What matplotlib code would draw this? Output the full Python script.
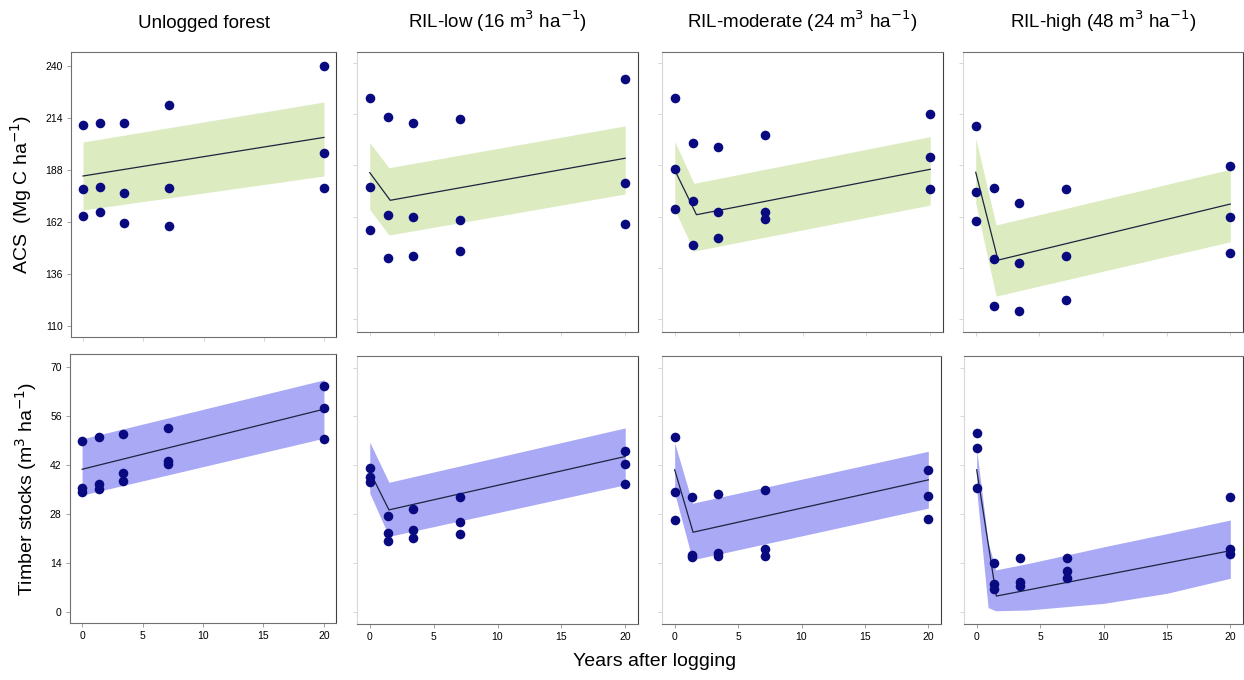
import numpy as np
import matplotlib
matplotlib.use("Agg")
import matplotlib.pyplot as plt

plt.rcParams['font.family'] = ['Liberation Sans', 'DejaVu Sans']

# survey years after logging, three plots per survey
years = [0, 0, 0, 1.4, 1.4, 1.4, 3.4, 3.4, 3.4, 7.1, 7.1, 7.1, 20, 20, 20]

titles = ["Unlogged forest", "RIL-low (16 m$^3$ ha$^{-1}$)",
          "RIL-moderate (24 m$^3$ ha$^{-1}$)", "RIL-high (48 m$^3$ ha$^{-1}$)"]

# above-ground carbon stocks (Mg C / ha)
acs_unlogged = [210.5, 178.3, 165, 211.7, 179.7, 166.8, 211.7, 176.7, 161.5, 220.3, 179.2, 160, 240, 196.7, 178.8]
acs_low = [222.3, 177, 155.2, 212.5, 163, 141, 209.3, 161.8, 142.2, 211.6, 160.1, 144.4, 231.6, 179.2, 158.1]
acs_mod = [222, 186.3, 166, 199.5, 170, 147.8, 197.3, 164.5, 151.4, 203.2, 164.2, 160.7, 213.9, 192.2, 176.2]
acs_high = [208.1, 174.7, 160, 176.7, 140.6, 116.8, 168.8, 138.7, 114.4, 176.2, 142.1, 120, 187.7, 161.8, 143.4]

# timber stocks (m3 / ha)
tim_unlogged = [48.9, 35.4, 34.4, 50.1, 36.6, 35.2, 50.9, 39.8, 37.4, 52.7, 43.3, 42.3, 64.5, 58.3, 49.5]
tim_low = [41.1, 38.5, 37.1, 27.5, 22.7, 20.3, 29.4, 23.3, 21.1, 33.0, 25.8, 22.3, 46.0, 42.4, 36.7]
tim_mod = [50.1, 34.4, 26.4, 33, 16.2, 15.8, 33.7, 16.8, 16.0, 34.9, 17.9, 16.1, 40.7, 33.2, 26.7]
tim_high = [51.3, 46.8, 35.4, 14.1, 7.9, 6.4, 15.4, 8.5, 7.4, 15.5, 11.8, 9.7, 33, 18.1, 16.7]

# model mean lines: knots and values
acs_fit_x = [[0, 20], [0, 1.6, 20], [0, 1.7, 20], [0, 1.75, 20]]
acs_fit_mean = [[185, 204.3], [184.3, 170.3, 191.6], [185.6, 163, 186], [184.5, 140, 168.4]]
tim_fit_x = [[0, 20], [0, 1.5, 20], [0, 1.45, 20], [0, 1.55, 20]]
tim_fit_mean = [[40.8, 58], [40.2, 29.2, 44.5], [40.7, 22.8, 37.8], [40.7, 4.5, 17.5]]

# credible bands: knots, lower, upper
acs_band_x = [[0, 20], [0, 1.5, 20], [0, 1.5, 20], [0, 1.6, 20]]
acs_band_lo = [[168, 185], [165.7, 152.7, 173.5], [165.4, 144.6, 167.9], [168.8, 121.8, 149.3]]
acs_band_hi = [[202, 222], [199.5, 186.8, 208], [200, 178.9, 202.5], [201.7, 157.8, 186]]
tim_band_x = [[0, 20], [0, 1.5, 20], [0, 1.4, 20], [0, 0.9, 1.5, 4, 10, 15, 20]]
tim_band_lo = [[33.4, 49.7], [34.0, 21.6, 36.4], [34.0, 14.9, 29.7], [34.9, 1.2, 0.3, 0.5, 2.4, 5.3, 9.6]]
tim_band_hi = [[49.5, 66.4], [48.6, 37.1, 52.7], [48.4, 31.1, 46], [46.5, 20, 12, 13.8, 18.6, 22.4, 26.3]]

acs_obs = [acs_unlogged, acs_low, acs_mod, acs_high]
tim_obs = [tim_unlogged, tim_low, tim_mod, tim_high]

W, H = 1244, 680
fig = plt.figure(figsize=(W / 100, H / 100), dpi=100)

# pixel boxes (left, right, top, bottom)
top_boxes = [(71, 336, 52, 337), (357, 638, 52, 332), (662, 943, 52, 332), (963, 1243, 52, 332)]
bot_boxes = [(70, 336, 354, 623), (357, 638, 356, 624), (662, 941, 356, 624), (964, 1243, 356, 624)]

def make_ax(box):
    l, r, t, b = box
    return fig.add_axes([l / W, 1 - b / H, (r - l) / W, (b - t) / H])

def style(ax, first, show_xlabels):
    for s in ax.spines.values():
        s.set_color('#707070')
        s.set_linewidth(0.8)
    ax.spines['right'].set_color('#404040')
    if not first:
        ax.spines['left'].set_color('#d8d8d8')
    ax.tick_params(length=3, width=0.6, color='#909090', labelsize=7.5, pad=3)
    ax.set_xlim(-1, 21)
    ax.set_xticks([0, 5, 10, 15, 20])
    if not show_xlabels:
        ax.tick_params(axis='x', labelbottom=False, color='#d0d0d0')
    if not first:
        ax.tick_params(axis='y', labelleft=False, color='#d0d0d0')

green = '#dcebc0'
blue = '#a9a9f5'
pt = '#0a0a80'
line_c = '#1c2540'

for i in range(4):
    ax = make_ax(top_boxes[i])
    ax.fill_between(acs_band_x[i], acs_band_lo[i], acs_band_hi[i], color=green, lw=0, zorder=1)
    ax.plot(acs_fit_x[i], acs_fit_mean[i], color=line_c, lw=0.9, zorder=2)
    ax.scatter(years, acs_obs[i], s=48, color=pt, zorder=3, lw=0)
    ax.set_yticks([110, 136, 162, 188, 214, 240])
    if i == 0:
        ax.set_ylim(104.5, 247)
    else:
        ax.set_ylim(103.6, 245.4)
    style(ax, i == 0, False)
    ax.set_title(titles[i], fontsize=13.5, pad=17)
    if i == 0:
        ax.set_ylabel("ACS  (Mg C ha$^{-1}$)", fontsize=14, labelpad=8)

for i in range(4):
    ax = make_ax(bot_boxes[i])
    ax.fill_between(tim_band_x[i], tim_band_lo[i], tim_band_hi[i], color=blue, lw=0, zorder=1)
    ax.plot(tim_fit_x[i], tim_fit_mean[i], color=line_c, lw=0.9, zorder=2)
    ax.scatter(years, tim_obs[i], s=48, color=pt, zorder=3, lw=0)
    ax.set_yticks([0, 14, 28, 42, 56, 70])
    if i == 0:
        ax.set_ylim(-3.2, 73.8)
    else:
        ax.set_ylim(-3.5, 73.3)
    style(ax, i == 0, True)
    if i == 0:
        ax.set_ylabel("Timber stocks (m$^3$ ha$^{-1}$)", fontsize=14, labelpad=8)

fig.text(655 / W, 1 - 662 / H, "Years after logging", fontsize=14, ha='center', va='center')

fig.savefig("out.png", dpi=100, facecolor='white')
